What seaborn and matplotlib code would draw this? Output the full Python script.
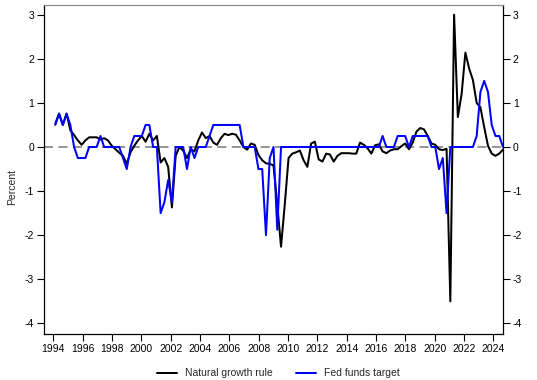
import numpy as np
import pandas as pd
import matplotlib
matplotlib.use("Agg")
import matplotlib.pyplot as plt
from matplotlib.lines import Line2D
import seaborn as sns

# quarterly observations, 1994Q1 .. 2023Q4
quarters = pd.period_range("1994Q1", "2023Q4", freq="Q")

natural_growth = [
    0.53, 0.76, 0.5, 0.76, 0.38, 0.27, 0.15, 0.05, 0.15, 0.22,
    0.22, 0.22, 0.17, 0.2, 0.15, 0.03, -0.05, -0.13, -0.2, -0.38,
    -0.12, 0.03, 0.15, 0.25, 0.12, 0.3, 0.15, 0.25, -0.35, -0.25,
    -0.45, -1.37, -0.2, 0.0, -0.08, -0.25, -0.05, -0.1, 0.15, 0.33,
    0.2, 0.25, 0.1, 0.05, 0.2, 0.3, 0.27, 0.3, 0.28, 0.15,
    0.0, -0.06, 0.08, 0.05, -0.18, -0.3, -0.37, -0.38, -0.42, -1.3,
    -2.26, -1.3, -0.25, -0.15, -0.12, -0.08, -0.3, -0.45, 0.08, 0.12,
    -0.28, -0.33, -0.15, -0.17, -0.33, -0.2, -0.14, -0.14, -0.14, -0.15,
    -0.15, 0.1, 0.05, -0.03, -0.15, 0.04, 0.06, -0.1, -0.14, -0.08,
    -0.05, -0.05, 0.02, 0.08, -0.05, 0.1, 0.35, 0.43, 0.4, 0.25,
    0.08, 0.05, -0.05, -0.07, -0.04, -3.5, 3.0, 0.68, 1.2, 2.14,
    1.78, 1.52, 1.0, 0.9, 0.45, 0.03, -0.15, -0.2, -0.15, -0.06,
]

fed_funds = (
    [0.5, 0.75, 0.5, 0.75, 0.5, 0, -0.25, -0.25, -0.25, 0, 0, 0,
     0.25, 0, 0, 0, 0, 0, -0.25, -0.5, 0, 0.25, 0.25, 0.25,
     0.5, 0.5, 0, 0, -1.5, -1.25, -0.75, -1.25, 0, 0, 0, -0.5,
     0, -0.25, 0, 0, 0, 0.25, 0.5, 0.5, 0.5, 0.5, 0.5, 0.5,
     0.5, 0.5, 0, 0, 0, 0, -0.5, -0.5, -2.0, -0.25, 0, -1.875]
    + [0] * 27
    + [0.25, 0, 0, 0, 0.25, 0.25, 0.25, 0, 0.25, 0.25, 0.25, 0.25, 0.25,
       0, 0, -0.5, -0.25, -1.5, 0, 0, 0, 0, 0, 0, 0,
       0.25, 1.25, 1.5, 1.25, 0.5, 0.25, 0.25, 0]
)

series_names = ["Natural growth rule", "Fed funds target"]
series_colors = ["black", "blue"]
year_labels = np.arange(1994, 2025, 2)
y_ticks = np.arange(-4, 4)

df = pd.concat([
    pd.DataFrame({"t": np.arange(len(quarters)), "value": natural_growth, "series": series_names[0]}),
    pd.DataFrame({"t": np.arange(len(quarters)), "value": fed_funds, "series": series_names[1]}),
])

sns.set_style("ticks")
plt.rcParams["font.family"] = ["Liberation Sans", "DejaVu Sans"]
plt.rcParams["axes.unicode_minus"] = False

fig = plt.figure(figsize=(5.37, 3.8), dpi=100)
ax = fig.add_axes([44 / 537, 1 - 334 / 380, 459 / 537, 329 / 380])

ax.axhline(0, color="#8c8c8c", lw=1.3, ls=(0, (5, 3)), zorder=1)
sns.lineplot(data=df, x="t", y="value", hue="series",
             palette=dict(zip(series_names, series_colors)),
             linewidth=1.45, legend=False, ax=ax, zorder=2)

ax.set_xlim(-3.0, 119.0)
ax.set_ylim(-4.24, 3.22)

# year labels sit at their own spacing on the quarter axis
ax.set_xticks(-0.53 + (year_labels - 1994) * 3.9)
ax.set_xticklabels([str(y) for y in year_labels])
ax.set_yticks(y_ticks)
ax.set_yticklabels([str(v) for v in y_ticks])

ax.tick_params(axis="both", direction="out", length=5, width=0.8,
               labelsize=7.5, pad=2, colors="black")
ax.tick_params(axis="y", right=True, labelright=True)

for side in ["left", "right", "bottom"]:
    ax.spines[side].set_color("black")
    ax.spines[side].set_linewidth(0.9)
ax.spines["top"].set_color("#8c8c8c")
ax.spines["top"].set_linewidth(0.9)

ax.set_xlabel("")
ax.set_ylabel("Percent", fontsize=7.5)
ax.yaxis.set_label_coords(-0.058, 0.447)

handles = [Line2D([], [], color=c, lw=1.45) for c in series_colors]
fig.legend(handles, series_names, loc="center", bbox_to_anchor=(0.519, 0.018),
           ncol=2, frameon=False, fontsize=7.5, handlelength=1.9,
           handletextpad=0.8, columnspacing=2.2)

fig.savefig("out.png", dpi=100)
